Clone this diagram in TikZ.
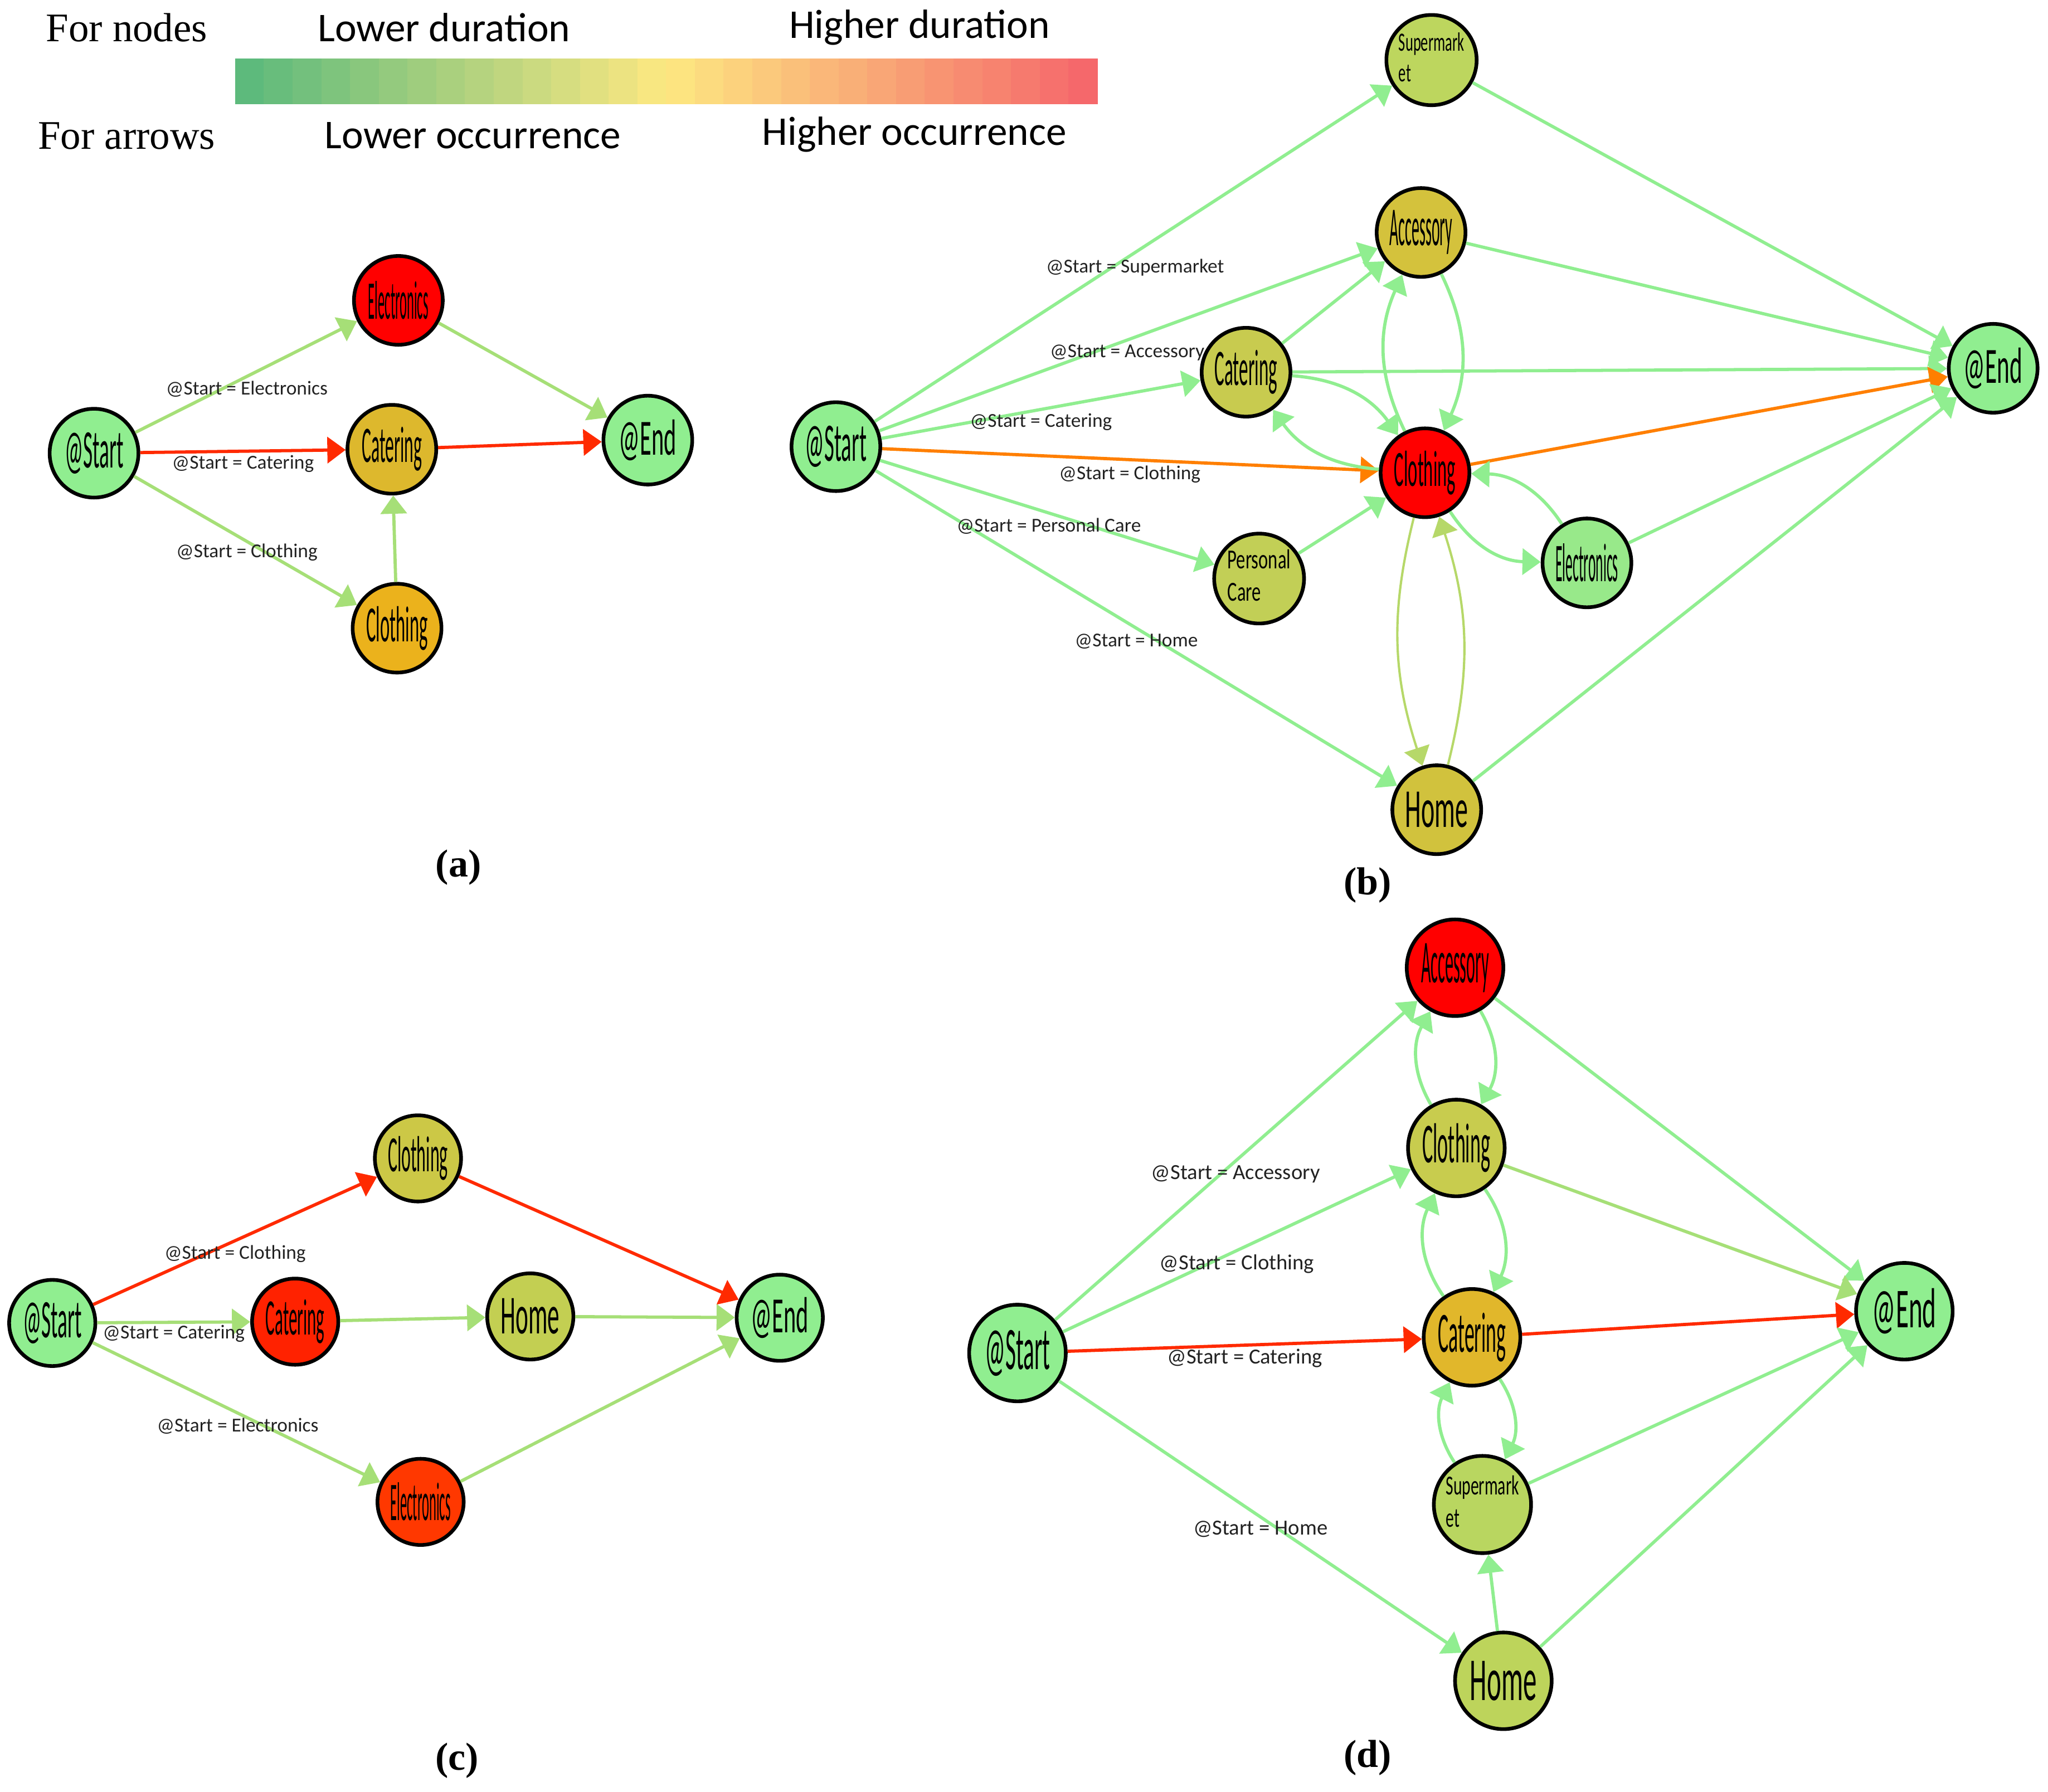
\documentclass[tikz,border=0pt]{standalone}
\usepackage{fontspec}
\usepackage{graphicx}
\setmainfont{Liberation Serif}
\newfontfamily\carl{Carlito}
\usetikzlibrary{arrows.meta}
\newlength\pxu \setlength\pxu{0.02cm}
\newcommand\NL[3]{\resizebox{#1\pxu}{#2\pxu}{\carl #3}}
\newcommand\NLL[4]{\scalebox{#1}[1]{\carl\fontsize{#2}{#3}\selectfont\begin{tabular}{@{}l@{}}#4\end{tabular}}}
\definecolor{ngreen}{HTML}{90EE90}
\definecolor{nred}{HTML}{FF0000}
\definecolor{aCaC}{HTML}{DDB82D}
\definecolor{aClC}{HTML}{EBB21C}
\definecolor{bSuC}{HTML}{BDD65E}
\definecolor{bAcC}{HTML}{D4C23C}
\definecolor{bCaC}{HTML}{C8CB4F}
\definecolor{bPCC}{HTML}{C2CF56}
\definecolor{bElC}{HTML}{98E98A}
\definecolor{bHoC}{HTML}{D1C23D}
\definecolor{cClC}{HTML}{CCC846}
\definecolor{cCaC}{HTML}{FF2200}
\definecolor{cHoC}{HTML}{C3CF52}
\definecolor{cElC}{HTML}{FF3800}
\definecolor{dClC}{HTML}{C8CC4E}
\definecolor{dCaC}{HTML}{E1B72B}
\definecolor{dSuC}{HTML}{B9D660}
\definecolor{dHoC}{HTML}{BDD45B}
\definecolor{egreen}{HTML}{90EE90}
\definecolor{eagreen}{HTML}{A6DF77}
\definecolor{eygreen}{HTML}{B6D869}
\definecolor{ered}{HTML}{FF2A00}
\definecolor{eorange}{HTML}{FF7F00}
\definecolor{ltxt}{HTML}{222222}
\definecolor{lgrn}{HTML}{5DBA7C}
\definecolor{lyel}{HTML}{FDE881}
\definecolor{lred}{HTML}{F5686B}
\tikzset{
  nd/.style={circle, draw=black, line width=1.6pt, minimum size=1.36cm, inner sep=0pt},
  ndc/.style={nd, minimum size=1.32cm},
  ndd/.style={nd, minimum size=1.48cm},
  ed/.style={line width=1.4pt, -{Triangle[length=0.28cm,width=0.4cm]}},
  eg/.style={ed, draw=egreen},
  eag/.style={ed, draw=eagreen},
  eyg/.style={ed, draw=eygreen, line width=1pt},
  er/.style={ed, draw=ered},
  eo/.style={ed, draw=eorange},
  elab/.style={text=ltxt, font=\carl\fontsize{8.6}{10}\selectfont, inner sep=0pt},
  elabd/.style={text=ltxt, font=\carl\fontsize{9.4}{11}\selectfont, inner sep=0pt},
  legs/.style={font=\fontsize{17.7}{20}\selectfont, inner sep=0pt},
  legc/.style={font=\carl\fontsize{17.8}{20}\selectfont, inner sep=0pt},
  plab/.style={font=\bfseries\fontsize{17}{20}\selectfont, inner sep=0pt}
}
\begin{document}
\begin{tikzpicture}[x=0.02cm, y=-0.02cm]
\useasboundingbox (0,0) rectangle (1568,1372);
% legend
\foreach \i in {0,...,29}{
  \pgfmathsetmacro{\t}{\i/29}
  \ifdim\t pt<0.5pt
    \pgfmathsetmacro{\p}{200*\t}\colorlet{bandc}{lyel!\p!lgrn}
  \else
    \pgfmathsetmacro{\p}{200*\t-100}\colorlet{bandc}{lred!\p!lyel}
  \fi
  \fill[bandc] ({180+22*\i},45) rectangle ({180+22*(\i+1)+0.6},80);
}
\node[legs] (fn) at (97,21) {For nodes};
\node[legs] (fa) at (97,104) {For arrows};
\node[legc] (ld) at (340,21) {Lower duration};
\node[legc] (hd) at (704,21) {Higher duration};
\node[legc] (lo) at (362,104) {Lower occurrence};
\node[legc] (ho) at (700,103) {Higher occurrence};

% ---------- panel a
\node[nd, fill=ngreen] (aS) at (72,347) {\NL{45}{27}{@Start}};
\node[nd, fill=nred] (aEl) at (305,230) {\NL{46}{29}{Electronics}};
\node[nd, fill=aCaC] (aCa) at (300,344) {\NL{46}{27}{Catering}};
\node[nd, fill=aClC] (aCl) at (304,481) {\NL{47}{27}{Clothing}};
\node[nd, fill=ngreen] (aE) at (496,337) {\NL{44}{27}{@End}};
\draw[eag] (aS) -- (aEl);
\draw[er] (aS) -- (aCa);
\draw[eag] (aS) -- (aCl);
\draw[eag] (aCl) -- (aCa);
\draw[eag] (aEl) -- (aE);
\draw[er] (aCa) -- (aE);
\node[elab] (laEl) at (189,298) {@Start = Electronics};
\node[elab] (laCa) at (186,355) {@Start = Catering};
\node[elab] (laCl) at (189,423) {@Start = Clothing};
\node[plab] (pa) at (351,664) {(a)};

% ---------- panel b
\node[nd, fill=ngreen] (bS) at (640,342) {\NL{47}{27}{@Start}};
\node[nd, fill=bSuC] (bSu) at (1096,46) {\NLL{0.56}{11.5}{13.5}{Supermark\\et}};
\node[nd, fill=bAcC] (bAc) at (1088,178) {\NL{48}{27}{Accessory}};
\node[nd, fill=bCaC] (bCa) at (954,285) {\NL{48}{27}{Catering}};
\node[nd, fill=nred] (bCl) at (1091,362) {\NL{47}{27}{Clothing}};
\node[nd, fill=bPCC] (bPC) at (964,443) {\NLL{0.66}{12}{14}{Personal\\Care}};
\node[nd, fill=bElC] (bEl) at (1215,431) {\NL{48}{29}{Electronics}};
\node[nd, fill=bHoC] (bHo) at (1100,620) {\NL{48}{27}{Home}};
\node[nd, fill=ngreen] (bE) at (1526,282) {\NL{45}{27}{@End}};
\draw[eg] (bS) -- (bSu);
\draw[eg] (bS) -- (bAc);
\draw[eg] (bS) -- (bCa);
\draw[eo] (bS) -- (bCl);
\draw[eg] (bS) -- (bPC);
\draw[eg] (bS) -- (bHo);
\draw[eg] (bSu) -- (bE);
\draw[eg] (bAc) -- (bE);
\draw[eg] (bCa) -- (bE);
\draw[eo] (bCl) -- (bE);
\draw[eg] (bEl) -- (bE);
\draw[eg] (bHo) -- (bE);
\draw[eg] (bCa) -- (bAc);
\draw[eg] (bPC) -- (bCl);
\draw[eg] (bCl) to[bend left=25] (bAc);
\draw[eg] (bAc) to[bend left=25] (bCl);
\draw[eg] (bCa) to[bend left=25] (bCl);
\draw[eg] (bCl) to[bend left=25] (bCa);
\draw[eg] (bEl) to[bend right=28] (bCl);
\draw[eg] (bCl) to[bend right=28] (bEl);
\draw[eyg] (bCl) to[bend right=16] (bHo);
\draw[eyg] (bHo) to[bend right=16] (bCl);
\node[elab] (lbSu) at (869,205) {@Start = Supermarket};
\node[elab] (lbAc) at (863,270) {@Start = Accessory};
\node[elab] (lbCa) at (797,323) {@Start = Catering};
\node[elab] (lbCl) at (865,363) {@Start = Clothing};
\node[elab] (lbPC) at (803,403) {@Start = Personal Care};
\node[elab] (lbHo) at (870,491) {@Start = Home};
\node[plab] (pb) at (1047,678) {(b)};

% ---------- panel c
\node[ndc, fill=ngreen] (cS) at (40,1013) {\NL{45}{27}{@Start}};
\node[ndc, fill=cClC] (cCl) at (320,887) {\NL{46}{27}{Clothing}};
\node[ndc, fill=cCaC] (cCa) at (226,1012) {\NL{45}{27}{Catering}};
\node[ndc, fill=cHoC] (cHo) at (406,1008) {\NL{45}{27}{Home}};
\node[ndc, fill=cElC] (cEl) at (322,1150) {\NL{46}{29}{Electronics}};
\node[ndc, fill=ngreen] (cE) at (597,1009) {\NL{44}{27}{@End}};
\draw[er] (cS) -- (cCl);
\draw[eag] (cS) -- (cCa);
\draw[eag] (cS) -- (cEl);
\draw[er] (cCl) -- (cE);
\draw[eag] (cCa) -- (cHo);
\draw[eag] (cHo) -- (cE);
\draw[eag] (cEl) -- (cE);
\node[elab] (lcCl) at (180,960) {@Start = Clothing};
\node[elab] (lcCa) at (133,1021) {@Start = Catering};
\node[elab] (lcEl) at (182,1092) {@Start = Electronics};
\node[plab] (pc) at (350,1348) {(c)};

% ---------- panel d
\node[ndd, fill=ngreen] (dS) at (779,1036) {\NL{50}{30}{@Start}};
\node[ndd, fill=nred] (dAc) at (1114,741) {\NL{52}{30}{Accessory}};
\node[ndd, fill=dClC] (dCl) at (1115,879) {\NL{52}{30}{Clothing}};
\node[ndd, fill=dCaC] (dCa) at (1127,1024) {\NL{52}{30}{Catering}};
\node[ndd, fill=dSuC] (dSu) at (1135,1152) {\NLL{0.6}{12}{14}{Supermark\\et}};
\node[ndd, fill=dHoC] (dHo) at (1151,1287) {\NL{51}{30}{Home}};
\node[ndd, fill=ngreen] (dE) at (1458,1004) {\NL{49}{30}{@End}};
\draw[eg] (dS) -- (dAc);
\draw[eg] (dS) -- (dCl);
\draw[er] (dS) -- (dCa);
\draw[eg] (dS) -- (dHo);
\draw[eg] (dAc) -- (dE);
\draw[eag] (dCl) -- (dE);
\draw[er] (dCa) -- (dE);
\draw[eg] (dSu) -- (dE);
\draw[eg] (dHo) -- (dE);
\draw[eg] (dHo) -- (dSu);
\draw[eg] (dCl) to[bend left=30] (dAc);
\draw[eg] (dAc) to[bend left=30] (dCl);
\draw[eg] (dCa) to[bend left=30] (dCl);
\draw[eg] (dCl) to[bend left=30] (dCa);
\draw[eg] (dSu) to[bend left=30] (dCa);
\draw[eg] (dCa) to[bend left=30] (dSu);
\node[elabd] (ldAc) at (946,899) {@Start = Accessory};
\node[elabd] (ldCl) at (947,968) {@Start = Clothing};
\node[elabd] (ldCa) at (953,1040) {@Start = Catering};
\node[elabd] (ldHo) at (965,1171) {@Start = Home};
\node[plab] (pd) at (1047,1346) {(d)};
\end{tikzpicture}
\end{document}
